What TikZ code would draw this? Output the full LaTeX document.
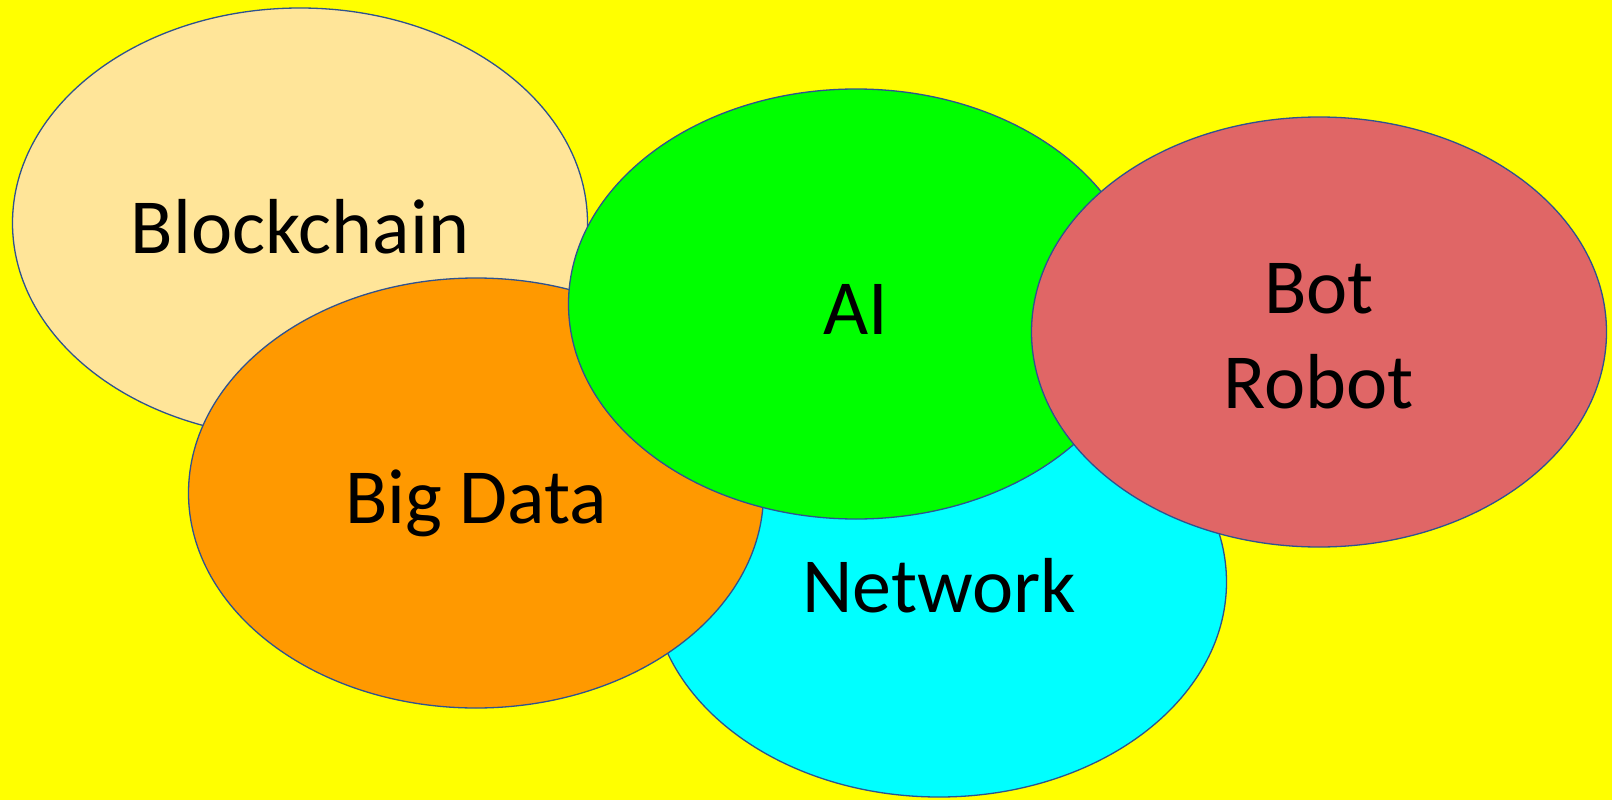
\documentclass[tikz,border=0pt]{standalone}
\usepackage{fontspec}
\setmainfont{Carlito}
\usetikzlibrary{shapes.geometric}
\definecolor{bgyellow}{HTML}{FFFF00}
\definecolor{cblock}{HTML}{FFE599}
\definecolor{cbig}{HTML}{FF9900}
\definecolor{cai}{HTML}{00FF00}
\definecolor{cbot}{HTML}{E06666}
\definecolor{cnet}{HTML}{00FFFF}
\definecolor{edgeblue}{HTML}{2F528F}
\tikzset{
  blob/.style={ellipse, draw=edgeblue, line width=1.3pt, minimum width=575pt, minimum height=430pt,
    inner sep=0pt, align=center, font=\fontsize{78}{95}\selectfont, text=black,
    text height=60pt, text depth=0pt}
}
\begin{document}
\begin{tikzpicture}[x=1pt,y=-1pt]
\fill[bgyellow] (0,0) rectangle (1612,800);
\useasboundingbox (0,0) rectangle (1612,800);
\node[blob, fill=cnet] (net) at (939,582) {Network};
\node[blob, fill=cblock] (bc) at (300,223) {Blockchain};
\node[blob, fill=cbig] (bd) at (476,493) {Big Data};
\node[blob, fill=cai] (ai) at (856,304) {AI};
\node[blob, fill=cbot, text height=153pt, text depth=0pt] (bot) at (1319,332) {Bot\\Robot};
\end{tikzpicture}
\end{document}
